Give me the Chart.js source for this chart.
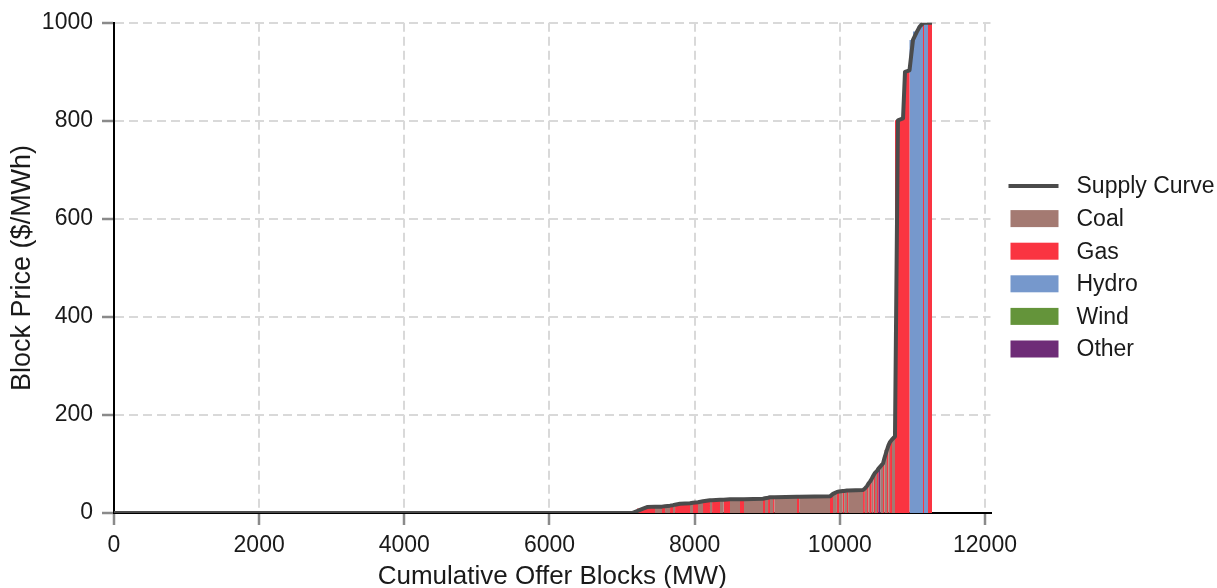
<!DOCTYPE html>
<html>
<head>
<meta charset="utf-8">
<script src="https://cdn.jsdelivr.net/npm/chart.js@4.4.1/dist/chart.umd.min.js"></script>
<style>
  html, body { margin: 0; padding: 0; background: #ffffff; }
  canvas { display: block; }
</style>
</head>
<body>
<canvas id="supply" width="1217" height="588"></canvas>
<script>
// Fuel types and their fill colours
const fuels = ['Coal', 'Gas', 'Hydro', 'Wind', 'Other'];
const fuelColors = ['#a47a72', '#fa3441', '#7698cc', '#64943a', '#6e2c77'];

// Offer blocks, sorted by price (merit order)
const blockFuel = [
  'Hydro', 'Wind', 'Other', 'Coal', 'Hydro', 'Wind', 'Gas',
  'Gas', 'Gas', 'Gas', 'Gas', 'Coal', 'Gas', 'Coal', 'Gas', 'Coal', 'Gas',
  'Gas', 'Coal', 'Gas', 'Coal', 'Gas', 'Coal', 'Gas', 'Coal', 'Gas', 'Coal',
  'Gas', 'Coal', 'Gas', 'Coal', 'Gas', 'Coal', 'Gas', 'Coal', 'Gas', 'Coal',
  'Gas', 'Coal', 'Gas', 'Coal', 'Gas', 'Coal', 'Gas', 'Coal', 'Gas', 'Coal',
  'Gas', 'Coal', 'Gas', 'Coal', 'Gas', 'Coal', 'Gas', 'Other', 'Coal', 'Gas',
  'Coal', 'Gas', 'Coal', 'Gas', 'Coal', 'Gas', 'Gas', 'Gas', 'Gas', 'Gas',
  'Hydro', 'Hydro', 'Hydro', 'Hydro', 'Gas', 'Hydro', 'Gas'
];
const blockMW = [
  1800, 1100, 250, 2250, 900, 500, 337,
  69, 83, 55, 110, 96, 42, 69, 41, 28, 68,
  138, 41, 69, 69, 96, 29, 109, 51, 87, 138,
  55, 262, 27, 42, 27, 42, 20, 310, 30, 425,
  41, 54, 30, 50, 20, 39, 16, 205, 25, 30,
  20, 21, 24, 25, 20, 27, 18, 30, 35, 20,
  35, 20, 22, 27, 41, 41, 70, 27, 42, 20,
  48, 55, 37, 46, 14, 55, 55
];
const blockPrice = [
  0, 0, 0, 0, 0, 0, 0,
  4, 9, 12, 13, 13, 14, 15, 16, 17, 19,
  20, 21, 22, 24, 26, 26, 27, 27, 28, 28,
  28, 29, 30, 31, 32, 32, 32, 33, 33, 34,
  39, 43, 44, 45, 45, 46, 46, 47, 50, 55,
  60, 64, 70, 77, 82, 86, 90, 95, 101, 112,
  129, 138, 145, 150, 156, 801, 805, 900, 902, 903,
  965, 982, 992, 999, 1000, 1000, 1000
];

// Axis tick values
const xTickValues = [0, 2000, 4000, 6000, 8000, 10000, 12000];
const yTickValues = [0, 200, 400, 600, 800, 1000];

const FONT = '"Liberation Sans", Arial, Helvetica, sans-serif';
const TEXT = '#1a1a1a';

// Cumulative block edges
const blockStart = [];
const blockEnd = [];
let total = 0;
blockMW.forEach(w => { blockStart.push(total); total += w; blockEnd.push(total); });

// Supply curve passes through the end of each block at its price
const curveData = [{ x: 0, y: 0 }].concat(blockEnd.map((e, i) => ({ x: e, y: blockPrice[i] })));

// One stepped, filled series per fuel: a block's height is its price when it belongs to that fuel
const fuelDatasets = fuels.map((f, k) => ({
  label: f,
  data: blockStart.map((s, i) => ({ x: s, y: blockFuel[i] === f ? blockPrice[i] : 0 }))
          .concat([{ x: total, y: 0 }]),
  stepped: 'before',
  fill: 'origin',
  backgroundColor: fuelColors[k],
  borderColor: 'rgba(0,0,0,0)',
  borderWidth: 0,
  pointRadius: 0,
  order: 2
}));

const curveDataset = {
  label: 'Supply Curve',
  data: curveData,
  borderColor: '#4b4b4b',
  borderWidth: 4,
  borderJoinStyle: 'round',
  fill: false,
  tension: 0,
  pointRadius: 0,
  order: 0
};

// Legend drawn to the right of the plot
const sideLegend = {
  id: 'sideLegend',
  afterDraw(chart) {
    const ctx = chart.ctx;
    const area = chart.chartArea;
    const x0 = area.right + 18;
    const swW = 48, swH = 17, rowH = 32.6;
    const y0 = 186;
    const textX = x0 + 68;
    const items = [curveDataset].concat(fuelDatasets);
    ctx.save();
    ctx.font = '23px ' + FONT;
    ctx.textBaseline = 'middle';
    ctx.textAlign = 'left';
    items.forEach((d, i) => {
      const cy = y0 + i * rowH;
      if (i === 0) {
        ctx.strokeStyle = d.borderColor;
        ctx.lineWidth = 4;
        ctx.beginPath();
        ctx.moveTo(x0, cy);
        ctx.lineTo(x0 + 50, cy);
        ctx.stroke();
      } else {
        ctx.fillStyle = d.backgroundColor;
        ctx.fillRect(x0 + 2, cy - swH / 2, swW, swH);
      }
      ctx.fillStyle = TEXT;
      ctx.fillText(d.label, textX, cy + 1);
    });
    ctx.restore();
  }
};

const gridCommon = {
  color: '#d9d9d9',
  lineWidth: 2,
  tickLength: 12,
  tickColor: '#8a8a8a',
  tickWidth: 2.5,
  tickBorderDash: []
};

const plainNumber = v => String(v);

new Chart(document.getElementById('supply'), {
  type: 'line',
  data: { datasets: [curveDataset].concat(fuelDatasets) },
  plugins: [sideLegend],
  options: {
    responsive: false,
    animation: false,
    layout: { padding: { left: 0, right: 226.5, top: 22.7, bottom: 0 } },
    plugins: { legend: { display: false }, tooltip: { enabled: false } },
    scales: {
      x: {
        type: 'linear',
        min: 0,
        max: 12076,
        afterBuildTicks: s => { s.ticks = xTickValues.map(v => ({ value: v })); },
        afterFit: s => { s.height = 75; },
        ticks: { font: { family: FONT, size: 23 }, color: TEXT, padding: 7, maxRotation: 0, autoSkip: false, callback: plainNumber },
        grid: gridCommon,
        border: { color: '#000', width: 2, dash: [9, 5] },
        title: {
          display: true,
          text: 'Cumulative Offer Blocks (MW)',
          font: { family: FONT, size: 26, lineHeight: 1 },
          color: TEXT,
          padding: { top: 0, bottom: -2 }
        }
      },
      y: {
        type: 'linear',
        min: 0,
        max: 1000,
        afterBuildTicks: s => { s.ticks = yTickValues.map(v => ({ value: v })); },
        afterFit: s => { s.width = 114; },
        ticks: { font: { family: FONT, size: 23 }, color: TEXT, padding: 9, callback: plainNumber },
        grid: gridCommon,
        border: { color: '#000', width: 2, dash: [9, 5] },
        title: {
          display: true,
          text: 'Block Price ($/MWh)',
          font: { family: FONT, size: 27, lineHeight: 1 },
          color: TEXT,
          padding: { top: 9, bottom: 0 }
        }
      }
    }
  }
});
</script>
</body>
</html>
